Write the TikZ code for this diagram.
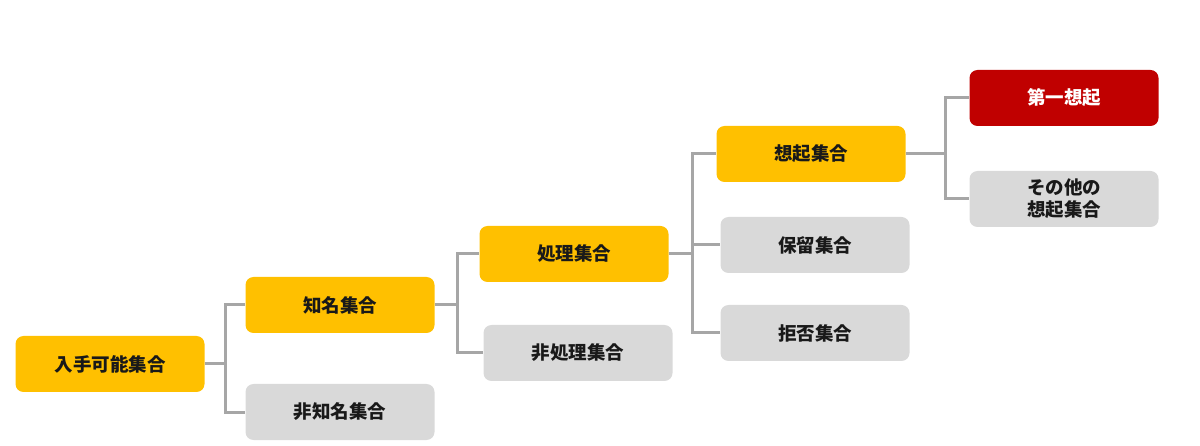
\documentclass[tikz,border=0pt]{standalone}
\usepackage{fontspec}
\usepackage{xcolor}
\newfontfamily\jpfont{Noto Sans CJK JP}
\definecolor{setyellow}{HTML}{FFC000}
\definecolor{setgray}{HTML}{D9D9D9}
\definecolor{setred}{HTML}{C00000}
\definecolor{linkgray}{HTML}{A6A6A6}

\begin{document}
\begin{tikzpicture}[x=1pt,y=-1pt]
\tikzset{setbox/.style={rounded corners=8pt,minimum width=189pt,minimum height=56pt,inner sep=0pt,
  align=center,font=\jpfont\bfseries\fontsize{18.5}{22}\selectfont,text=black!90}}
\tikzset{kept/.style={setbox,fill=setyellow}}
\tikzset{dropped/.style={setbox,fill=setgray}}
\tikzset{top/.style={setbox,fill=setred,text=white}}
\tikzset{link/.style={draw=linkgray,line width=3pt}}

\useasboundingbox (0,0) rectangle (1200,446);

% sets
\node[kept]    (avail)   at (110,364)  {入手可能集合};
\node[kept]    (known)   at (340,305)  {知名集合};
\node[dropped] (unknown) at (340,412)  {非知名集合};
\node[kept]    (proc)    at (574,254)  {処理集合};
\node[dropped] (nonproc) at (578,353)  {非処理集合};
\node[kept]    (evoked)  at (811,154)  {想起集合};
\node[dropped] (hold)    at (815,245)  {保留集合};
\node[dropped] (reject)  at (815,333)  {拒否集合};
\node[top]     (first)   at (1064,98)  {第一想起};
\node[dropped] (other)   at (1064,199) {その他の\\想起集合};

% junctions
\coordinate (j1) at (225,364);
\coordinate (j2) at (457,305);
\coordinate (j3) at (692,254);
\coordinate (j4) at (945,154);

\draw[link] (avail.east) -- (j1);
\draw[link] (j1) |- (known.west);
\draw[link] (j1) |- (unknown.west);
\draw[link] (known.east) -- (j2);
\draw[link] (j2) |- (proc.west);
\draw[link] (j2) |- (nonproc.west);
\draw[link] (proc.east) -- (j3);
\draw[link] (j3) |- (evoked.west);
\draw[link] (j3) |- (hold.west);
\draw[link] (j3) |- (reject.west);
\draw[link] (evoked.east) -- (j4);
\draw[link] (j4) |- (first.west);
\draw[link] (j4) |- (other.west);

\end{tikzpicture}
\end{document}
